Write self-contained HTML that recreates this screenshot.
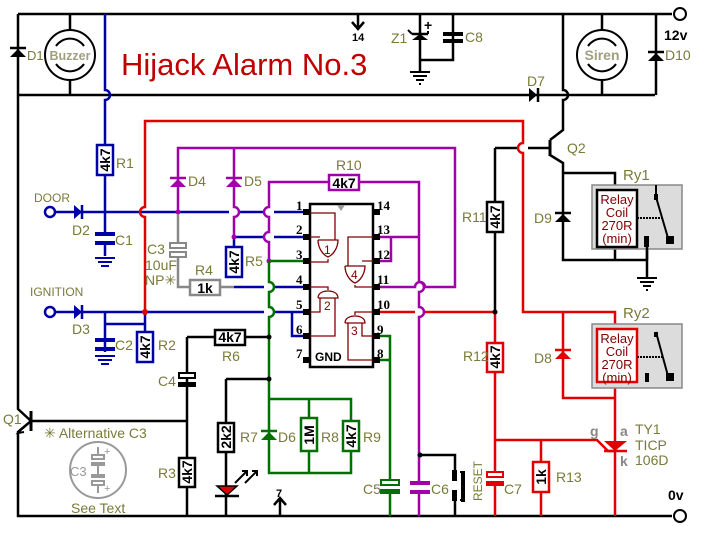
<!DOCTYPE html>
<html><head><style>
html,body{margin:0;padding:0;background:#fff;}
svg{display:block;font-family:"Liberation Sans",sans-serif;}
.l{fill:#7a7a3a;font-size:14px;}
.w{fill:none;stroke-width:2.5;}
.k{stroke:#000}.b{stroke:#0000a8}.r{stroke:#e00000}.p{stroke:#a000a8}.g{stroke:#007000}.gy{stroke:#888}
.rv{font-weight:bold;font-size:14px;}
</style></head><body>
<svg width="704" height="542" viewBox="0 0 704 542">
<g class="w k">
<path d="M18,14H672"/>
<path d="M18,95H655"/>
<path d="M18,14V409 L31,421 M31,421 L18,432 V516 H672"/>
<path d="M70,14V30 M70,79V95"/>
<path d="M602,14V30 M602,79V95"/>
<path d="M656,14V95"/>
<path d="M31,421H187"/>
<path d="M187,337H215 M245,337H269 M187,337V516"/>
<path d="M226,379H269 M226,379V516"/>
<path d="M495,148H518 M528,148H550 M495,148V312"/>
<path d="M563,14V90 A5,5 0 0 1 563,100 V130 L550,140 M550,155 L563,163 V173 H615 V190 M563,173V260 H646 M615,247V260 M647,237V278"/>
<path d="M420,14V60 H453 V14 M420,60V72"/>
<path d="M358,14V29 M352,22L358,29L364,22"/>
<path d="M420,455H455V470 M455,500V516"/>
<path d="M280,498V516 M274,505L280,498L286,505"/>
</g>
<path d="M31,411V431" stroke="#000" stroke-width="3"/>
<path d="M22,428 L18,433 L24,432" fill="none" stroke="#000" stroke-width="2"/>
<path d="M550,140V156" stroke="#000" stroke-width="3"/>
<g stroke="#000" stroke-width="2">
<path d="M410,72H430 M413,76H427 M416,80H424 M419,84H421"/>
<path d="M637,278H657 M640,282H654 M643,286H651 M646,290H648"/>
</g>
<g class="w b">
<path d="M105,14V90 A5,5 0 0 1 105,100 V145 M105,175V233 M105,243V256"/>
<path d="M55,212H229 M239,212H264 M274,212H305"/>
<path d="M234,237H264 M274,237H305"/>
<path d="M234,287H264 M274,287H305"/>
<path d="M55,312H264 M274,312H305 M292,312V336H305"/>
<path d="M145,312V332 M145,362V324 M105,312V340 M105,352V324 H145"/>
<path d="M234,237V247"/>
</g>
<g stroke="#0000a8" stroke-width="2">
<path d="M95,258H115 M98,262H112 M101,266H109"/>
<path d="M95,356H115 M98,360H112 M101,364H109"/>
</g>
<g fill="#0000a8"><rect x="95" y="232" width="20" height="4"/><rect x="95" y="241" width="20" height="4"/>
<rect x="95" y="338" width="20" height="4"/><rect x="95" y="347" width="20" height="4"/></g>
<circle cx="50" cy="212" r="5" fill="#fff" stroke="#0000a8" stroke-width="2.5"/>
<circle cx="50" cy="312" r="5" fill="#fff" stroke="#0000a8" stroke-width="2.5"/>
<path d="M74,205V219L82,212Z M74,305V319L82,312Z" fill="#0000a8"/>
<path d="M82,205V219 M82,305V319" stroke="#0000a8" stroke-width="2.5"/>
<g class="w r">
<path d="M145,312V217 A5,5 0 0 1 145,207 V121 H523 V143 A5,5 0 0 0 523,153 V312 H615 V330 M615,382V516"/>
<path d="M373,312H415 M425,312H495 V343 M495,372V472 M495,486V516"/>
<path d="M563,312V398H615 M495,440H597 L608,451H615 M541,440V462 M541,492V516"/>
</g>
<circle cx="145" cy="312" r="3" fill="#e00000"/>
<rect x="487" y="343" width="16" height="29" fill="#fff" stroke="#e00000" stroke-width="2.5"/>
<rect x="533" y="462" width="16" height="30" fill="#fff" stroke="#e00000" stroke-width="2.5"/>
<rect x="487" y="472" width="16" height="5" fill="#fff" stroke="#e00000" stroke-width="2"/>
<rect x="486" y="481" width="18" height="5" fill="#e00000"/>
<path d="M555,359H571L563,351Z" fill="#e00000"/><path d="M555,350H571" stroke="#e00000" stroke-width="2.5"/>
<path d="M604,441H627L615,451Z" fill="#e00000"/><path d="M604,451H627" stroke="#e00000" stroke-width="2.5"/>
<g class="w p">
<path d="M178,212V148 H455 V287 H425 A5,5 0 0 0 415,287 H373"/>
<path d="M234,148V207 A5,5 0 0 1 234,217 V237"/>
<path d="M269,261V242 A5,5 0 0 1 269,232 V217 A5,5 0 0 1 269,207 V182 H329 M359,182H419 V282 A5,5 0 0 1 419,292 V307 A5,5 0 0 1 419,317 V482 M419,492V516"/>
<path d="M373,237H419 M391,237V261H373"/>
</g>
<rect x="329" y="175" width="30" height="15" fill="#fff" stroke="#a000a8" stroke-width="2.5"/>
<path d="M170,187H186L178,179Z M226,187H242L234,179Z" fill="#a000a8"/>
<path d="M170,178H186 M226,178H242" stroke="#a000a8" stroke-width="2.5"/>
<rect x="410" y="481" width="20" height="4" fill="#a000a8"/><rect x="410" y="490" width="20" height="4" fill="#a000a8"/>
<circle cx="178" cy="212" r="2.5" fill="#a000a8"/><circle cx="234" cy="237" r="2.5" fill="#a000a8"/><circle cx="269" cy="261" r="2.5" fill="#a000a8"/>
<g class="w gy"><path d="M178,214V243 M178,254V287H190 M220,287H234"/></g>
<rect x="170" y="243" width="16" height="5" fill="#fff" stroke="#888" stroke-width="2"/>
<rect x="170" y="252" width="16" height="5" fill="#fff" stroke="#888" stroke-width="2"/>
<rect x="190" y="280" width="30" height="15" fill="#fff" stroke="#888" stroke-width="2.5"/>
<g class="w g">
<path d="M269,261H305 M269,261V282 A5,5 0 0 1 269,292 V307 A5,5 0 0 1 269,317 V473 H351 V452 M351,420V399 H269 M309,399V418 M309,452V473"/>
<path d="M373,336H390 V480 M390,493V516 M373,360H390"/>
</g>
<path d="M261,440H277L269,432Z" fill="#007000"/><path d="M261,431H277" stroke="#007000" stroke-width="2.5"/>
<rect x="301" y="418" width="16" height="33" fill="#fff" stroke="#007000" stroke-width="2.5"/>
<rect x="343" y="421" width="16" height="30" fill="#fff" stroke="#007000" stroke-width="2.5"/>
<rect x="381" y="480" width="18" height="5" fill="#fff" stroke="#007000" stroke-width="2"/>
<rect x="380" y="489" width="20" height="5" fill="#007000"/>
<rect x="97" y="145" width="16" height="30" fill="#fff" stroke="#0000a8" stroke-width="2.5"/>
<rect x="137" y="332" width="16" height="30" fill="#fff" stroke="#0000a8" stroke-width="2.5"/>
<rect x="226" y="247" width="16" height="30" fill="#fff" stroke="#0000a8" stroke-width="2.5"/>
<rect x="215" y="330" width="30" height="15" fill="#fff" stroke="#000" stroke-width="2.5"/>
<rect x="218" y="423" width="16" height="29" fill="#fff" stroke="#000" stroke-width="2.5"/>
<rect x="179" y="458" width="16" height="29" fill="#fff" stroke="#000" stroke-width="2.5"/>
<rect x="487" y="202" width="16" height="30" fill="#fff" stroke="#000" stroke-width="2.5"/>
<rect x="179" y="373" width="16" height="5" fill="#fff" stroke="#000" stroke-width="2"/>
<rect x="178" y="382" width="18" height="5" fill="#000"/>
<path d="M10,57H26L18,49Z" fill="#000"/><path d="M10,48H26" stroke="#000" stroke-width="2.5"/>
<path d="M648,61H664L656,53Z" fill="#000"/><path d="M648,52H664" stroke="#000" stroke-width="2.5"/>
<path d="M555,222H571L563,214Z" fill="#000"/><path d="M555,213H571" stroke="#000" stroke-width="2.5"/>
<path d="M529,88V102L537,95Z" fill="#000"/><path d="M538,88V102" stroke="#000" stroke-width="2.5"/>
<path d="M412,40H428L420,34Z" fill="#000"/><path d="M412,34H428" stroke="#000" stroke-width="2.5"/><path d="M412,34l-4,-4 M428,34l0,-3" stroke="#000" stroke-width="2"/>
<text x="424" y="30" font-size="14" font-weight="bold">+</text>
<rect x="443" y="32" width="20" height="4" fill="#000"/><rect x="443" y="39" width="20" height="4" fill="#000"/>
<path d="M217,486H237L227,495Z" fill="#e00000" stroke="#000" stroke-width="1.5"/><path d="M215,496H239" stroke="#000" stroke-width="2.5"/>
<path d="M235,483L247,471 M245,483L257,471 M242,471h5v5 M252,471h5v5" stroke="#000" stroke-width="2" fill="none"/>
<rect x="452" y="470" width="5" height="11" fill="#000"/><rect x="452" y="490" width="5" height="11" fill="#000"/>
<path d="M463,471V502" stroke="#000" stroke-width="4"/><path d="M463,472h-3 M463,500h-3" stroke="#000" stroke-width="2"/>
<g fill="#000"><circle cx="269" cy="337" r="2.5"/><circle cx="269" cy="379" r="2.5"/><circle cx="495" cy="312" r="2.5"/><circle cx="420" cy="455" r="2.5"/></g>
<rect x="310" y="204" width="63" height="163" fill="#fff" stroke="#000" stroke-width="2.5"/>
<path d="M337,205H345L341,211Z" fill="#999"/>
<g fill="#000">
<rect x="303" y="209" width="7" height="6"/><rect x="303" y="234" width="7" height="6"/><rect x="303" y="258" width="7" height="6"/><rect x="303" y="284" width="7" height="6"/><rect x="303" y="309" width="7" height="6"/><rect x="303" y="333" width="7" height="6"/><rect x="303" y="357" width="7" height="6"/>
<rect x="373" y="209" width="7" height="6"/><rect x="373" y="234" width="7" height="6"/><rect x="373" y="258" width="7" height="6"/><rect x="373" y="284" width="7" height="6"/><rect x="373" y="309" width="7" height="6"/><rect x="373" y="333" width="7" height="6"/><rect x="373" y="357" width="7" height="6"/>
</g>
<g font-family="Liberation Serif,serif" font-weight="bold" font-size="13">
<text x="296" y="210">1</text><text x="296" y="234">2</text><text x="296" y="259">3</text><text x="296" y="284">4</text><text x="296" y="309">5</text><text x="296" y="334">6</text><text x="296" y="358">7</text>
<text x="377" y="210">14</text><text x="377" y="234">13</text><text x="377" y="259">12</text><text x="377" y="284">11</text><text x="377" y="309">10</text><text x="377" y="334">9</text><text x="377" y="358">8</text>
</g>
<text x="315" y="361" font-size="12" font-weight="bold">GND</text>
<g fill="none" stroke="#800000" stroke-width="1.3">
<path d="M310,213H335V240 M310,237H320 M318,240H338 C338,248 333,255 328,257 C323,255 318,248 318,240 M328,259V262H310"/>
<path d="M373,237H348V266 M373,261H362 M345,266H365 C365,274 360,281 355,283 C350,281 345,274 345,266 M355,285V287H373"/>
<path d="M310,287H328V290 M318,298C318,293 323,291 328,291 C333,291 338,293 338,298 H318 M310,312H320V298 M310,336H335V298"/>
<path d="M373,312H355V315 M345,323C345,318 350,316 355,316 C360,316 365,318 365,323 H345 M373,336H362V323 M373,360H348V323"/>
</g>
<g fill="#800000" font-size="12"><text x="324" y="254">1</text><text x="351" y="279">4</text><text x="324" y="310">2</text><text x="351" y="335">3</text></g>
<g fill="none" stroke="#000" stroke-width="2">
<circle cx="70" cy="55" r="25"/><path d="M56,46a17,17 0 0 1 28,0 M56,64a17,17 0 0 0 28,0"/>
<circle cx="602" cy="55" r="25"/><path d="M588,46a17,17 0 0 1 28,0 M588,64a17,17 0 0 0 28,0"/>
</g>
<text x="70" y="60" font-size="12.5" font-weight="bold" fill="#a0a080" text-anchor="middle">Buzzer</text>
<text x="602" y="60" font-size="14" font-weight="bold" fill="#a0a080" text-anchor="middle">Siren</text>
<rect x="592" y="185" width="90" height="64" fill="#dcdcdc" stroke="#888" stroke-width="1.5"/>
<rect x="592" y="324" width="90" height="64" fill="#dcdcdc" stroke="#888" stroke-width="1.5"/>
<rect x="597" y="190" width="40" height="57" fill="#fff" stroke="#000" stroke-width="2.5"/>
<rect x="597" y="329" width="40" height="53" fill="#fff" stroke="#e00000" stroke-width="2.5"/>
<g fill="#800000" font-size="13" text-anchor="middle">
<text x="617" y="204">Relay</text><text x="617" y="217">Coil</text><text x="617" y="230">270R</text><text x="617" y="243">(min)</text>
<text x="617" y="343">Relay</text><text x="617" y="356">Coil</text><text x="617" y="369">270R</text><text x="617" y="382">(min)</text>
</g>
<g stroke="#000" stroke-width="2" fill="none">
<path d="M637,218H663" stroke-dasharray="2,1"/>
<path d="M637,357H664" stroke-dasharray="2,1"/>
<path d="M656,185V197 L668,238"/>
<path d="M656,332L668,376"/>
<path d="M647,247V260" stroke-width="2.5"/>
</g>
<g fill="#000"><rect x="654" y="194" width="4" height="6"/><rect x="644" y="236" width="5" height="11"/><rect x="666" y="236" width="8" height="8"/>
<rect x="654" y="332" width="4" height="5"/><rect x="645" y="373" width="4" height="9"/><rect x="666" y="373" width="8" height="8"/></g>
<circle cx="680" cy="14" r="6" fill="#fff" stroke="#000" stroke-width="2"/>
<circle cx="680" cy="516" r="6" fill="#fff" stroke="#000" stroke-width="2"/>
<text x="664" y="40" font-size="14" font-weight="bold">12v</text>
<text x="668" y="500" font-size="14" font-weight="bold">0v</text>
<text x="352" y="41" font-size="11" font-weight="bold">14</text>
<text x="276" y="497" font-size="11" font-weight="bold">7</text>
<text x="121" y="75" font-size="31" fill="#c00000">Hijack Alarm No.3</text>
<g class="l">
<text x="27" y="60" font-size="13">D1</text><text x="665" y="60">D10</text>
<text x="116" y="168">R1</text><text x="34" y="202" font-size="12">DOOR</text><text x="72" y="235">D2</text><text x="115" y="245">C1</text>
<text x="188" y="186">D4</text><text x="244" y="186">D5</text><text x="336" y="170">R10</text>
<text x="147" y="254">C3</text><text x="145" y="270">10uF</text><text x="145" y="285">NP✳</text><text x="195" y="275">R4</text><text x="245" y="266">R5</text>
<text x="30" y="296" font-size="12">IGNITION</text><text x="72" y="334">D3</text><text x="115" y="350">C2</text><text x="158" y="350">R2</text>
<text x="222" y="361">R6</text><text x="158" y="386">C4</text><text x="3" y="424">Q1</text>
<text x="44" y="438">✳ Alternative C3</text><text x="71" y="513">See Text</text>
<text x="158" y="478">R3</text><text x="240" y="442">R7</text><text x="278" y="442">D6</text><text x="321" y="442">R8</text><text x="363" y="442">R9</text>
<text x="363" y="494">C5</text><text x="431" y="494">C6</text><text x="504" y="494">C7</text><text x="556" y="482">R13</text>
<text x="462" y="222">R11</text><text x="463" y="361">R12</text><text x="534" y="223">D9</text><text x="534" y="363">D8</text>
<text x="567" y="153">Q2</text><text x="527" y="86">D7</text><text x="391" y="43">Z1</text><text x="465" y="42">C8</text>
<text x="623" y="180" font-size="15">Ry1</text><text x="623" y="318" font-size="15">Ry2</text>
<text x="635" y="434">TY1</text><text x="635" y="450">TICP</text><text x="635" y="465">106D</text>
<text transform="translate(482,501) rotate(-90)" font-size="12">RESET</text>
</g>
<g fill="#888" font-weight="bold" font-size="14"><text x="590" y="436">g</text><text x="620" y="436">a</text><text x="620" y="466">k</text></g>
<g class="rv">
<text transform="translate(110,160) rotate(-90)" text-anchor="middle">4k7</text>
<text transform="translate(150,347) rotate(-90)" text-anchor="middle">4k7</text>
<text transform="translate(239,262) rotate(-90)" text-anchor="middle">4k7</text>
<text transform="translate(231,437) rotate(-90)" text-anchor="middle">2k2</text>
<text transform="translate(192,472) rotate(-90)" text-anchor="middle">4k7</text>
<text transform="translate(500,217) rotate(-90)" text-anchor="middle">4k7</text>
<text transform="translate(500,357) rotate(-90)" text-anchor="middle">4k7</text>
<text transform="translate(546,477) rotate(-90)" text-anchor="middle">1k</text>
<text transform="translate(314,435) rotate(-90)" text-anchor="middle">1M</text>
<text transform="translate(356,436) rotate(-90)" text-anchor="middle">4k7</text>
<text x="230" y="342" text-anchor="middle">4k7</text>
<text x="344" y="188" text-anchor="middle">4k7</text>
<text x="205" y="293" text-anchor="middle">1k</text>
</g>
<circle cx="98" cy="470" r="28" fill="none" stroke="#999" stroke-width="2"/>
<g stroke="#999" stroke-width="2" fill="none"><path d="M98,447V455 M98,462V478 M98,485V493"/><rect x="92" y="455" width="12" height="4"/><rect x="92" y="481" width="12" height="4"/></g>
<rect x="91" y="462" width="14" height="4" fill="#999"/><rect x="91" y="474" width="14" height="4" fill="#999"/>
<text x="70" y="476" font-size="13" fill="#999">C3</text>
<text x="104" y="455" font-size="11" fill="#999">+</text><text x="104" y="492" font-size="11" fill="#999">+</text>
</svg>
</body></html>
